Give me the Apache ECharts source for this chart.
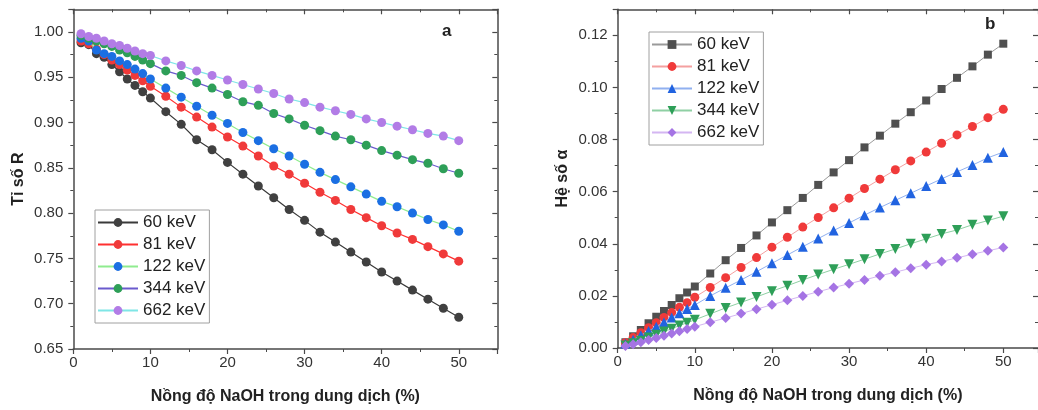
<!DOCTYPE html>
<html><head><meta charset="utf-8">
<script src="https://cdn.jsdelivr.net/npm/echarts@6/dist/echarts.min.js"></script>
<style>html,body{margin:0;padding:0;background:#fff}#c{width:1038px;height:410px}</style>
</head><body><div id="c"></div>
<script>
const concentration = [1,2,3,4,5,6,7,8,9,10,12,14,16,18,20,22,24,26,28,30,32,34,36,38,40,42,44,46,48,50];
const energies = ['60 keV','81 keV','122 keV','344 keV','662 keV'];
const xTicks = [0,10,20,30,40,50];

const ratio60  = [0.988,0.986,0.976,0.972,0.964,0.956,0.948,0.941,0.934,0.927,0.912,0.898,0.881,0.870,0.856,0.843,0.830,0.817,0.804,0.792,0.779,0.768,0.757,0.746,0.735,0.725,0.715,0.705,0.695,0.685];
const ratio81  = [0.990,0.987,0.981,0.975,0.969,0.964,0.958,0.952,0.946,0.940,0.929,0.917,0.906,0.895,0.884,0.874,0.863,0.852,0.843,0.833,0.823,0.814,0.804,0.795,0.786,0.778,0.771,0.763,0.755,0.747];
const ratio122 = [0.993,0.990,0.980,0.976,0.973,0.968,0.964,0.959,0.954,0.948,0.938,0.928,0.918,0.908,0.899,0.889,0.880,0.871,0.863,0.854,0.845,0.837,0.829,0.821,0.813,0.807,0.800,0.793,0.787,0.780];
const ratio344 = [0.996,0.993,0.990,0.987,0.984,0.980,0.977,0.973,0.969,0.965,0.957,0.952,0.944,0.938,0.931,0.923,0.919,0.910,0.904,0.897,0.891,0.885,0.881,0.875,0.869,0.864,0.859,0.855,0.849,0.844];
const ratio662 = [0.998,0.995,0.993,0.990,0.987,0.985,0.982,0.979,0.976,0.974,0.968,0.963,0.957,0.952,0.947,0.942,0.937,0.932,0.926,0.922,0.917,0.913,0.909,0.904,0.900,0.896,0.892,0.888,0.885,0.880];

const alpha60  = [0.0022,0.0045,0.0069,0.0095,0.0120,0.0142,0.0165,0.0191,0.0213,0.0236,0.0286,0.0337,0.0384,0.0432,0.0482,0.0529,0.0576,0.0626,0.0674,0.0721,0.0770,0.0815,0.0861,0.0905,0.0950,0.0994,0.1037,0.1081,0.1126,0.1168];
const alpha81  = [0.0020,0.0040,0.0059,0.0078,0.0097,0.0117,0.0136,0.0156,0.0174,0.0195,0.0232,0.0270,0.0309,0.0347,0.0387,0.0425,0.0464,0.0501,0.0538,0.0575,0.0612,0.0648,0.0684,0.0718,0.0752,0.0786,0.0818,0.0850,0.0884,0.0916];
const alpha122 = [0.0017,0.0032,0.0049,0.0065,0.0082,0.0099,0.0117,0.0133,0.0150,0.0165,0.0200,0.0231,0.0261,0.0293,0.0325,0.0357,0.0389,0.0420,0.0451,0.0480,0.0510,0.0539,0.0567,0.0594,0.0622,0.0649,0.0676,0.0702,0.0730,0.0752];
const alpha344 = [0.0010,0.0018,0.0028,0.0040,0.0051,0.0063,0.0074,0.0086,0.0097,0.0108,0.0131,0.0154,0.0175,0.0196,0.0218,0.0239,0.0261,0.0282,0.0302,0.0321,0.0341,0.0361,0.0380,0.0400,0.0419,0.0438,0.0453,0.0473,0.0489,0.0506];
const alpha662 = [0.0008,0.0014,0.0022,0.0031,0.0038,0.0047,0.0056,0.0064,0.0073,0.0082,0.0099,0.0115,0.0132,0.0149,0.0166,0.0183,0.0200,0.0216,0.0232,0.0247,0.0261,0.0277,0.0291,0.0306,0.0320,0.0332,0.0346,0.0360,0.0373,0.0386];

const xTitle = 'Nồng độ NaOH trong dung dịch (%)';
const yTitleA = 'Tỉ số R';
const yTitleB = 'Hệ số α';

const FONT = '"Liberation Sans", Arial, sans-serif';
const AX = '#4a4a4a';

const ratioSets = [ratio60, ratio81, ratio122, ratio344, ratio662];
const alphaSets = [alpha60, alpha81, alpha122, alpha344, alpha662];
const markerA = ['#404040','#f03a3a','#1b6fe3','#2e9f58','#b27ce6'];
const lineA   = ['#3a3a3a','#ff3030','#8fec8f','#6a5acd','#7fe6e6'];
const markerB = ['#505050','#f03a3a','#2163e0','#2e9f58','#a574e4'];
const lineB   = ['#9a9a9a','#f4a0a0','#90b0f0','#8fd0a4','#d4b6f2'];
const symB    = ['rect','circle','triangle','triangle','diamond'];
const symBRot = [0,0,0,180,0];
const symBSize= [8,9,10,10,10];

function zip(xs, ys){ return xs.map((x,i)=>[x, ys[i]]); }

const series = [];
energies.forEach((e,i)=>{
  series.push({
    name: e, type:'line', xAxisIndex:0, yAxisIndex:0,
    data: zip(concentration, ratioSets[i]),
    symbol:'circle', symbolSize:9,
    itemStyle:{color: markerA[i]},
    lineStyle:{color: lineA[i], width:1.2},
    animation:false, z: 2+i
  });
});
energies.forEach((e,i)=>{
  series.push({
    name: 'b:'+e, type:'line', xAxisIndex:2, yAxisIndex:2,
    data: zip(concentration, alphaSets[i]),
    symbol: symB[i], symbolRotate: symBRot[i], symbolSize: symBSize[i],
    itemStyle:{color: markerB[i]},
    lineStyle:{color: lineB[i], width:1},
    animation:false, z: 2+i
  });
});

function baseX(grid, pos, show, max){
  return {
    type:'value', gridIndex:grid, position:pos, min:0, max:max, interval:10,
    axisLine:{show:true, onZero:false, lineStyle:{color:AX, width:1.5}},
    axisTick:{show:true, inside: !show, length:5, lineStyle:{color:AX, width:1.2}},
    minorTick:{show:true, splitNumber:2, length:3, lineStyle:{color:AX, width:1}},
    splitLine:{show:false},
    axisLabel:{show:show, showMaxLabel:false, color:'#333', fontSize:15, fontFamily:FONT, margin:6},
    name: show ? xTitle : '', nameLocation:'middle', nameGap:40,
    nameTextStyle:{fontSize:16, fontWeight:'bold', fontFamily:FONT, color:'#222'}
  };
}
function baseY(grid, pos, show, min, max, interval, name, lineShow){
  return {
    type:'value', gridIndex:grid, position:pos, min:min, max:max, interval:interval,
    axisLine:{show:lineShow, onZero:false, lineStyle:{color:AX, width:1.5}},
    axisTick:{show:true, inside: !show, length:5, lineStyle:{color:AX, width:1.2}},
    minorTick:{show:true, splitNumber:2, length:3, lineStyle:{color:AX, width:1}},
    splitLine:{show:false},
    axisLabel:{show:show, showMaxLabel:false, color:'#333', fontSize:15, fontFamily:FONT, margin:10,
      formatter: v => v.toFixed(2)},
    name: show ? name : '', nameLocation:'middle', nameGap:47, nameRotate:90,
    nameTextStyle:{fontSize:16, fontWeight:'bold', fontFamily:FONT, color:'#222'}
  };
}

const legendCommon = {
  orient:'vertical', itemWidth:40, itemHeight:11, itemGap:5,
  borderColor:'#a0a0a0', borderWidth:1, padding:[4,4,4,2],
  textStyle:{fontSize:17, lineHeight:17, fontFamily:FONT, color:'#222'},
  selectedMode:false
};

const option = {
  animation:false,
  backgroundColor:'#fff',
  grid:[
    {left:73.3, right:540.7, top:9.3, bottom:60},
    {left:617.7, right:0, top:9.3, bottom:62}
  ],
  xAxis:[ baseX(0,'bottom',true,55), baseX(0,'top',false,55), baseX(1,'bottom',true,54.5), baseX(1,'top',false,54.5) ],
  yAxis:[
    baseY(0,'left',true,0.65,1.025,0.05,yTitleA,true),
    baseY(0,'right',false,0.65,1.025,0.05,'',true),
    baseY(1,'left',true,0,0.13,0.02,yTitleB,true),
    baseY(1,'right',false,0,0.13,0.02,'',false)
  ],
  legend:[
    Object.assign({}, legendCommon, {left:95, top:210, data: energies}),
    Object.assign({}, legendCommon, {left:649, top:32, data: energies.map(e=>'b:'+e),
      formatter: n => n.replace(/^b:/,'')})
  ],
  graphic:[
    {type:'text', left:442, top:23, style:{text:'a', font:'bold 17px '+FONT, fill:'#222'}},
    {type:'text', left:985, top:16, style:{text:'b', font:'bold 17px '+FONT, fill:'#222'}}
  ],
  series: series
};

const chart = echarts.init(document.getElementById('c'), null, {renderer:'canvas'});
chart.setOption(option);
</script>
</body></html>
